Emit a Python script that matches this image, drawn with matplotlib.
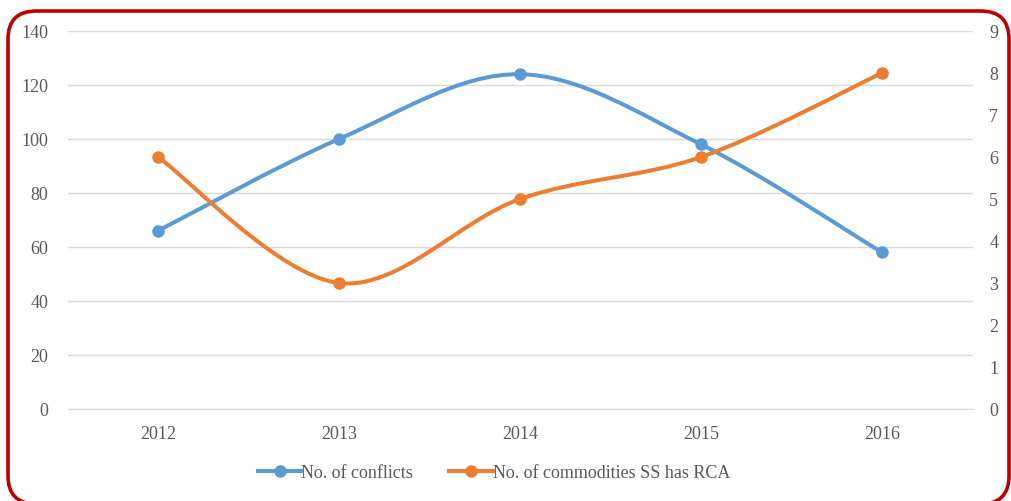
import matplotlib
matplotlib.use("Agg")
import matplotlib.pyplot as plt
from matplotlib.path import Path
from matplotlib.patches import PathPatch, FancyBboxPatch
from matplotlib.lines import Line2D
import numpy as np

# data
years = ["2012", "2013", "2014", "2015", "2016"]
conflicts = [66, 100, 124, 98, 58]
commodities = [6, 3, 5, 6, 8]

BLUE = "#5B9BD5"
ORANGE = "#ED7D31"
GREY = "#595959"

plt.rcParams["font.family"] = ["Liberation Serif", "DejaVu Serif"]


def smooth_path(xs, ys, t=1 / 6):
    # excel style smoothed line: cubic bezier segments through the points
    pts = np.column_stack([xs, ys]).astype(float)
    n = len(pts)
    verts = [pts[0]]
    codes = [Path.MOVETO]
    for i in range(n - 1):
        p0 = pts[i - 1] if i > 0 else pts[i]
        p1 = pts[i]
        p2 = pts[i + 1]
        p3 = pts[i + 2] if i + 2 < n else pts[i + 1]
        c1 = p1 + (p2 - p0) * t
        c2 = p2 - (p3 - p1) * t
        verts += [c1, c2, p2]
        codes += [Path.CURVE4] * 3
    return Path(verts, codes)


fig = plt.figure(figsize=(10.12, 5.01), dpi=100)
ax = fig.add_axes([67.5 / 1012, 1 - 409 / 501, 905 / 1012, 378 / 501])
ax2 = ax.twinx()

x = np.arange(len(years))
LW = 2.9
MS = 8

ax.add_patch(PathPatch(smooth_path(x, conflicts), fill=False, edgecolor=BLUE,
                       lw=LW, capstyle="round", zorder=3))
ax.plot(x, conflicts, "o", color=BLUE, ms=MS, zorder=4)

ax2.add_patch(PathPatch(smooth_path(x, commodities), fill=False, edgecolor=ORANGE,
                        lw=LW, capstyle="round", zorder=3))
ax2.plot(x, commodities, "o", color=ORANGE, ms=MS, zorder=4)

ax.set_xlim(-0.5, len(years) - 0.5)
ax.set_ylim(0, 140)
ax.set_yticks(range(0, 141, 20))
ax2.set_ylim(0, 9)
ax2.set_yticks(range(0, 10))
ax.set_xticks(x)
ax.set_xticklabels(years)

ax.grid(axis="y", color="#D9D9D9", lw=1)
ax.set_axisbelow(True)
for a in (ax, ax2):
    for s in a.spines.values():
        s.set_visible(False)
    a.tick_params(length=0, labelsize=13, labelcolor=GREY)
ax.spines["bottom"].set_visible(True)
ax.spines["bottom"].set_color("#D9D9D9")
ax.tick_params(axis="y", pad=14)
ax.tick_params(axis="x", pad=12)
ax2.tick_params(axis="y", pad=12)

handles = [
    Line2D([], [], color=BLUE, lw=LW, marker="o", ms=MS),
    Line2D([], [], color=ORANGE, lw=LW, marker="o", ms=MS),
]
fig.legend(handles, ["No. of conflicts", "No. of commodities SS has RCA"],
           loc="center", bbox_to_anchor=(494 / 1012, 1 - 473 / 501), ncol=2,
           frameon=False, fontsize=13, labelcolor=GREY, handlelength=2.4,
           handletextpad=0.0, columnspacing=2.0)

# red rounded frame, bottom edge runs just past the image
border = FancyBboxPatch((8 / 1012, -3 / 501), 1001 / 1012, 493 / 501,
                        boxstyle="round,pad=0,rounding_size=0.028",
                        transform=fig.transFigure, fill=False,
                        edgecolor="#C00000", lw=2.6, mutation_aspect=2.0)
fig.patches.append(border)

fig.savefig("out.png", dpi=100)
